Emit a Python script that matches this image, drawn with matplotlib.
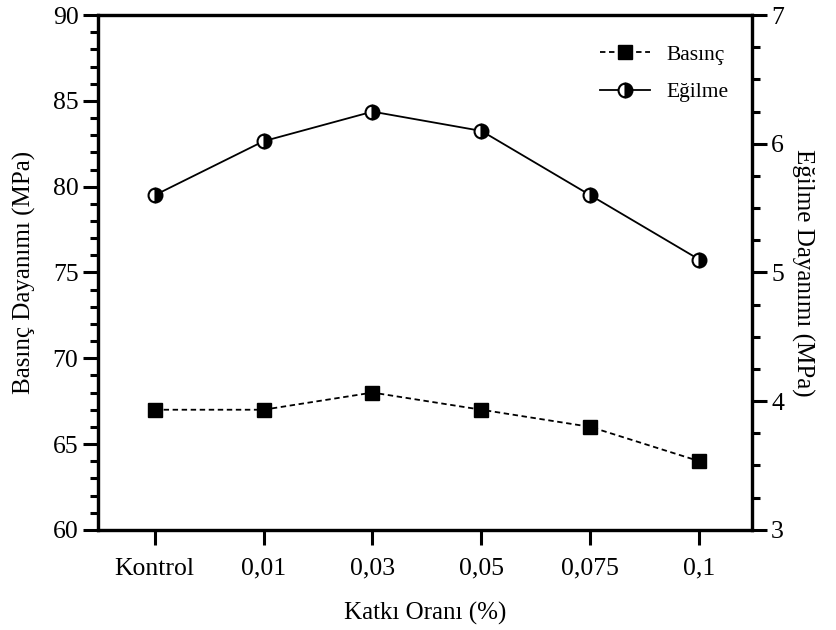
import matplotlib.pyplot as plt
from matplotlib.ticker import MultipleLocator

plt.rcParams['font.family'] = ['Liberation Serif', 'DejaVu Serif']

# Data
categories = ['Kontrol', '0,01', '0,03', '0,05', '0,075', '0,1']
basinc = [67, 67, 68, 67, 66, 64]              # left axis (MPa)
egilme = [5.60, 6.02, 6.25, 6.10, 5.60, 5.10]  # right axis (MPa)

x = list(range(len(categories)))

fig = plt.figure(figsize=(8.37, 6.30), dpi=100)
ax = fig.add_axes([0.117, 0.159, 0.781, 0.817])
ax2 = ax.twinx()

l1, = ax.plot(x, basinc, linestyle=(0, (3, 2)), color='black', linewidth=1.3,
              marker='s', markersize=10, markerfacecolor='black',
              markeredgecolor='black', label='Basınç')
l2, = ax2.plot(x, egilme, linestyle='-', color='black', linewidth=1.3,
               marker='o', markersize=10, fillstyle='right',
               markerfacecolor='black', markerfacecoloralt='white',
               markeredgecolor='black', markeredgewidth=1.5, label='Eğilme')

ax.set_xlim(-0.52, 5.48)
ax.set_ylim(60, 90)
ax2.set_ylim(3, 7)

ax.set_xticks(x)
ax.set_xticklabels(categories)
ax.yaxis.set_major_locator(MultipleLocator(5))
ax.yaxis.set_minor_locator(MultipleLocator(1))
ax2.yaxis.set_major_locator(MultipleLocator(1))
ax2.yaxis.set_minor_locator(MultipleLocator(0.25))

for a in (ax, ax2):
    for s in a.spines.values():
        s.set_linewidth(2.3)
    a.tick_params(which='major', length=11, width=2.2, labelsize=18.5, pad=3)
    a.tick_params(which='minor', length=6, width=2.2)
ax.tick_params(axis='x', which='minor', bottom=False)
ax.tick_params(axis='x', pad=9)

ax.set_xlabel('Katkı Oranı (%)', fontsize=18, labelpad=16)
ax.set_ylabel('Basınç Dayanımı (MPa)', fontsize=18, labelpad=12)
ax2.set_ylabel('Eğilme Dayanımı (MPa)', fontsize=18, rotation=270, labelpad=22)

ax.legend(handles=[l1, l2], loc='upper right', bbox_to_anchor=(0.995, 0.98),
          frameon=False, fontsize=15.5, handlelength=2.3, labelspacing=0.8)

fig.savefig('out.png', dpi=100)
